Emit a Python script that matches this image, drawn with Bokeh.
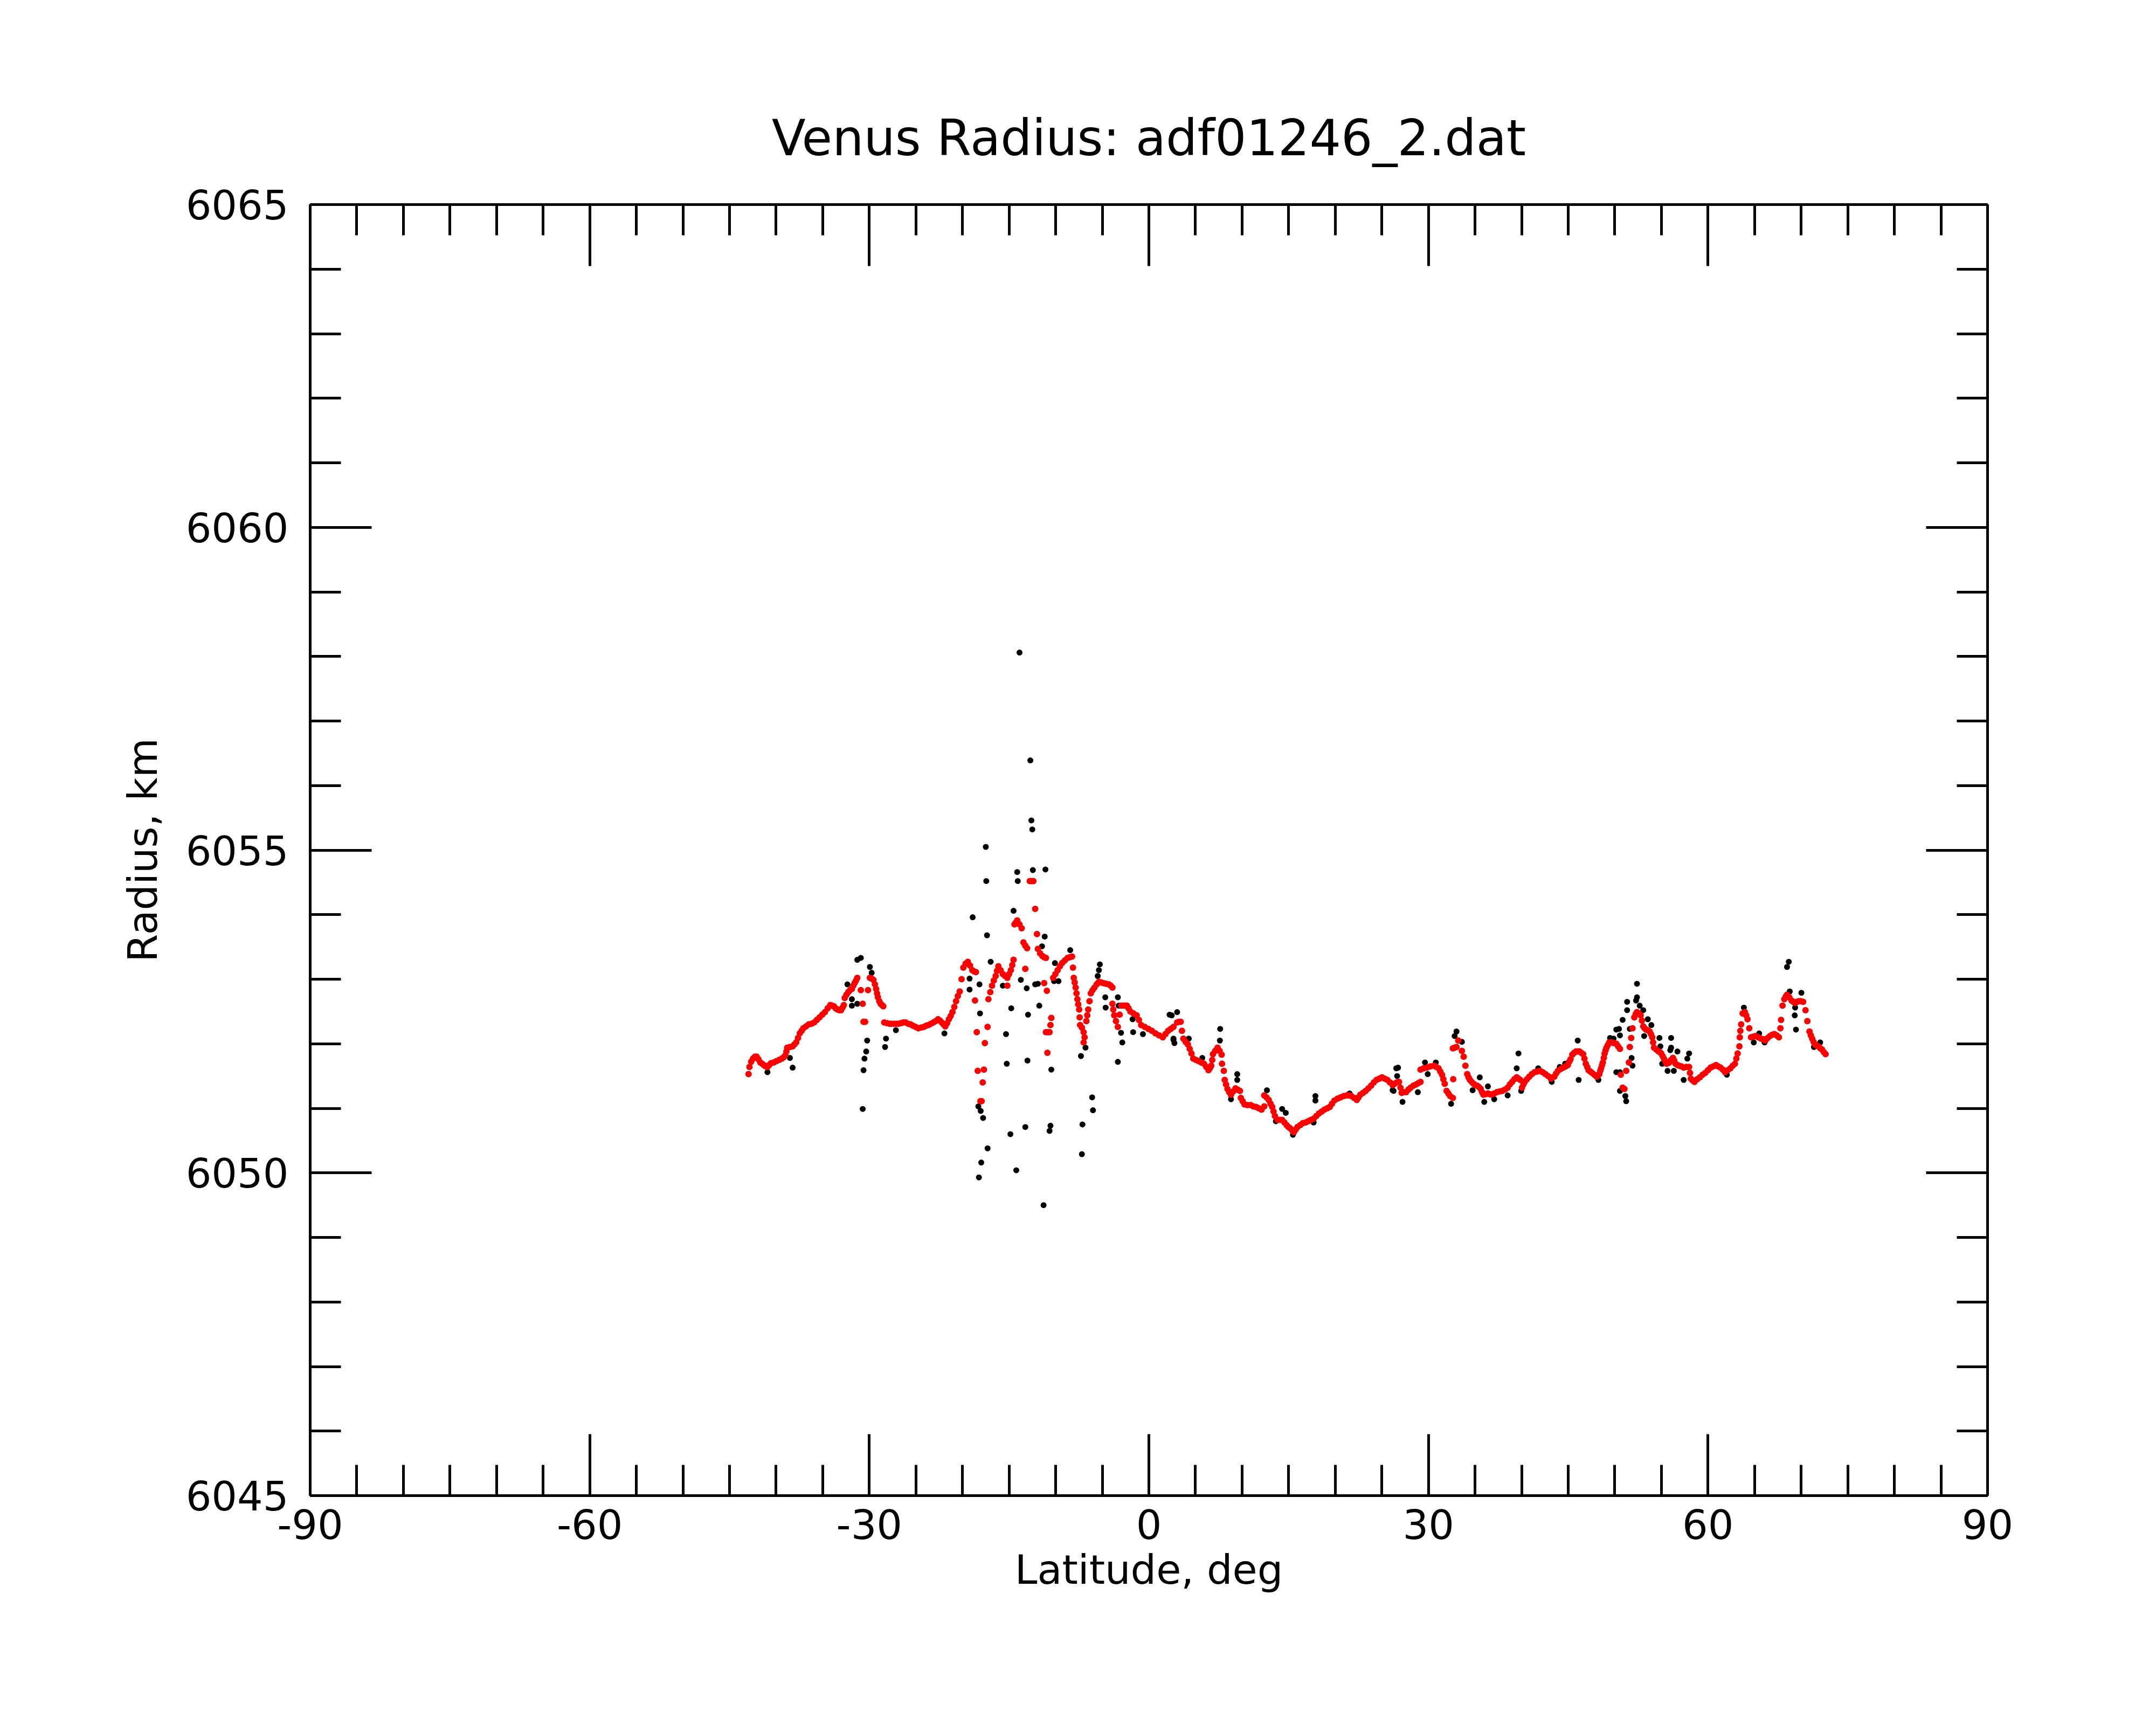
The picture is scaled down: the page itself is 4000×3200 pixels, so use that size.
from bokeh.plotting import figure
from bokeh.models import Range1d, SingleIntervalTicker, LinearAxis, CustomJSTickFormatter, ColumnDataSource
from bokeh.embed import file_html
from bokeh.resources import INLINE

title_text = "Venus Radius: adf01246_2.dat"
x_label = "Latitude, deg"
y_label = "Radius, km"
x_ticks_major = 30
y_ticks_major = 5

# smoothed radius (red), (latitude deg, radius km)
red_points = [
    (-42.96, 6051.53), (-42.86, 6051.64), (-42.68, 6051.72), (-42.48, 6051.77), (-42.28, 6051.80),
    (-42.09, 6051.80), (-41.90, 6051.76), (-41.70, 6051.71), (-41.50, 6051.69), (-41.32, 6051.67),
    (-41.12, 6051.65), (-40.93, 6051.64), (-40.74, 6051.67), (-40.55, 6051.70), (-40.26, 6051.71),
    (-39.97, 6051.73), (-39.68, 6051.75), (-39.39, 6051.77), (-39.20, 6051.79), (-39.01, 6051.82),
    (-38.90, 6051.88), (-38.81, 6051.94), (-38.52, 6051.95), (-38.23, 6051.96), (-38.04, 6051.99),
    (-37.85, 6052.02), (-37.65, 6052.09), (-37.46, 6052.16), (-37.27, 6052.20), (-37.08, 6052.24),
    (-36.79, 6052.27), (-36.50, 6052.30), (-36.21, 6052.31), (-35.92, 6052.33), (-35.63, 6052.37),
    (-35.34, 6052.41), (-35.05, 6052.45), (-34.76, 6052.49), (-34.47, 6052.55), (-34.19, 6052.60),
    (-34.00, 6052.59), (-33.80, 6052.58), (-33.61, 6052.55), (-33.41, 6052.53), (-33.22, 6052.52),
    (-33.03, 6052.52), (-32.88, 6052.56), (-32.74, 6052.60), (-32.64, 6052.71), (-32.45, 6052.76),
    (-32.26, 6052.80), (-32.06, 6052.83), (-31.87, 6052.85), (-31.72, 6052.90), (-31.58, 6052.94),
    (-31.43, 6052.98), (-31.29, 6053.02), (-30.91, 6052.83), (-30.71, 6052.62), (-30.62, 6052.34),
    (-30.45, 6052.34), (-30.14, 6052.83), (-29.94, 6053.02), (-29.75, 6053.01), (-29.56, 6052.99),
    (-29.40, 6052.92), (-29.27, 6052.85), (-29.17, 6052.78), (-29.08, 6052.72), (-28.93, 6052.66),
    (-28.79, 6052.62), (-28.64, 6052.60), (-28.50, 6052.58), (-28.40, 6052.33), (-28.10, 6052.32),
    (-27.85, 6052.31), (-27.63, 6052.31), (-27.35, 6052.31), (-27.10, 6052.31), (-26.86, 6052.31),
    (-26.60, 6052.32), (-26.35, 6052.33), (-26.09, 6052.33), (-25.83, 6052.31), (-25.57, 6052.30),
    (-25.32, 6052.28), (-25.03, 6052.26), (-24.74, 6052.24), (-24.45, 6052.25), (-24.16, 6052.26),
    (-23.90, 6052.28), (-23.65, 6052.29), (-23.39, 6052.31), (-23.13, 6052.33), (-22.88, 6052.35),
    (-22.62, 6052.38), (-22.42, 6052.36), (-22.23, 6052.33), (-22.04, 6052.30), (-21.85, 6052.27),
    (-21.65, 6052.32), (-21.46, 6052.38), (-21.27, 6052.43), (-21.08, 6052.49), (-20.88, 6052.57),
    (-20.69, 6052.66), (-20.50, 6052.74), (-20.30, 6052.81), (-20.10, 6053.00), (-19.91, 6053.18),
    (-19.67, 6053.24), (-19.43, 6053.27), (-19.19, 6053.21), (-18.95, 6053.14), (-18.75, 6053.12),
    (-18.56, 6053.11), (-18.66, 6052.67), (-18.47, 6052.18), (-18.37, 6051.58), (-17.70, 6051.60),
    (-17.83, 6051.40), (-18.08, 6051.11), (-17.95, 6051.11), (-17.60, 6052.01), (-17.31, 6052.26),
    (-17.22, 6052.69), (-17.02, 6052.80), (-16.83, 6052.90), (-16.64, 6052.98), (-16.44, 6053.05),
    (-16.30, 6053.13), (-16.15, 6053.20), (-15.91, 6053.14), (-15.67, 6053.08), (-15.43, 6053.05),
    (-15.19, 6053.02), (-15.19, 6052.90), (-15.00, 6053.08), (-14.81, 6053.14), (-14.66, 6053.22),
    (-14.52, 6053.30), (-14.42, 6053.85), (-14.27, 6053.88), (-14.13, 6053.91), (-13.89, 6053.85),
    (-13.65, 6053.79), (-13.46, 6053.57), (-13.26, 6053.52), (-13.07, 6053.48), (-13.26, 6053.16),
    (-12.78, 6054.52), (-12.59, 6054.52), (-12.40, 6054.52), (-12.20, 6054.09), (-12.01, 6053.70),
    (-11.91, 6053.47), (-11.67, 6053.40), (-11.43, 6053.36), (-11.24, 6053.34), (-11.05, 6053.33),
    (-11.24, 6052.94), (-10.95, 6052.82), (-10.47, 6052.40), (-10.56, 6052.29), (-11.05, 6052.18),
    (-10.85, 6052.18), (-10.66, 6052.18), (-10.89, 6051.86), (-10.27, 6053.02), (-10.03, 6053.08),
    (-9.79, 6053.14), (-9.55, 6053.20), (-9.31, 6053.25), (-9.02, 6053.29), (-8.73, 6053.33),
    (-8.49, 6053.34), (-8.25, 6053.35), (-8.15, 6053.18), (-8.06, 6053.02), (-7.96, 6052.95),
    (-7.86, 6052.87), (-7.77, 6052.78), (-7.67, 6052.69), (-7.58, 6052.61), (-7.48, 6052.53),
    (-7.43, 6052.41), (-7.38, 6052.29), (-7.19, 6052.25), (-7.00, 6052.18), (-7.00, 6052.02),
    (-6.90, 6052.10), (-6.71, 6052.35), (-6.61, 6052.44), (-6.51, 6052.53), (-6.37, 6052.66),
    (-6.23, 6052.78), (-6.04, 6052.83), (-5.84, 6052.87), (-5.60, 6052.92), (-5.36, 6052.96),
    (-5.12, 6052.95), (-4.88, 6052.94), (-4.59, 6052.93), (-4.30, 6052.92), (-4.10, 6052.90),
    (-3.91, 6052.87), (-3.91, 6052.62), (-3.82, 6052.53), (-3.72, 6052.44), (-3.53, 6052.35),
    (-3.33, 6052.26), (-3.14, 6052.45), (-2.95, 6052.59), (-2.66, 6052.59), (-2.37, 6052.59),
    (-2.18, 6052.55), (-1.98, 6052.50), (-1.65, 6052.47), (-1.31, 6052.44), (-1.07, 6052.37),
    (-0.83, 6052.29), (-0.44, 6052.26), (-0.05, 6052.23), (0.33, 6052.20), (0.71, 6052.16),
    (1.10, 6052.13), (1.49, 6052.10), (1.78, 6052.15), (2.06, 6052.20), (2.35, 6052.23),
    (2.64, 6052.26), (3.03, 6052.33), (3.22, 6052.34), (3.41, 6052.34), (3.55, 6052.20),
    (3.70, 6052.08), (3.94, 6052.03), (4.18, 6051.99), (4.38, 6051.92), (4.57, 6051.85),
    (4.76, 6051.77), (5.05, 6051.75), (5.34, 6051.73), (5.63, 6051.71), (5.92, 6051.69),
    (6.16, 6051.64), (6.40, 6051.59), (6.55, 6051.62), (6.69, 6051.66), (6.80, 6051.75),
    (6.88, 6051.84), (7.12, 6051.89), (7.37, 6051.94), (7.59, 6051.89), (7.81, 6051.83),
    (7.85, 6051.69), (8.04, 6051.58), (8.14, 6051.44), (8.28, 6051.37), (8.43, 6051.30),
    (8.62, 6051.25), (8.81, 6051.21), (9.05, 6051.26), (9.29, 6051.31), (9.53, 6051.29),
    (9.77, 6051.27), (9.87, 6051.16), (10.06, 6051.11), (10.26, 6051.06), (10.60, 6051.05),
    (10.93, 6051.05), (11.22, 6051.03), (11.51, 6051.02), (11.80, 6051.00), (12.09, 6050.98),
    (12.38, 6051.03), (12.38, 6051.20), (12.62, 6051.17), (12.86, 6051.13), (13.05, 6051.07),
    (13.24, 6051.02), (13.38, 6050.95), (13.53, 6050.88), (13.82, 6050.82), (14.06, 6050.82),
    (14.30, 6050.82), (14.55, 6050.78), (14.79, 6050.74), (14.98, 6050.71), (15.17, 6050.69),
    (15.37, 6050.66), (15.56, 6050.63), (15.75, 6050.67), (15.94, 6050.71), (16.23, 6050.74),
    (16.52, 6050.77), (16.81, 6050.78), (17.10, 6050.80), (17.39, 6050.82), (17.68, 6050.84),
    (17.97, 6050.88), (18.26, 6050.92), (18.55, 6050.95), (18.84, 6050.98), (19.13, 6051.00),
    (19.41, 6051.02), (19.65, 6051.07), (19.90, 6051.12), (20.24, 6051.15), (20.57, 6051.17),
    (20.91, 6051.19), (21.25, 6051.20), (21.49, 6051.20), (21.73, 6051.19), (22.02, 6051.16),
    (22.31, 6051.13), (22.50, 6051.17), (22.69, 6051.21), (22.98, 6051.24), (23.27, 6051.27),
    (23.56, 6051.31), (23.85, 6051.35), (24.14, 6051.40), (24.43, 6051.44), (24.72, 6051.46),
    (25.01, 6051.48), (25.30, 6051.46), (25.59, 6051.44), (25.88, 6051.40), (26.16, 6051.36),
    (26.36, 6051.38), (26.60, 6051.40), (26.84, 6051.41), (27.00, 6051.32), (27.13, 6051.24),
    (27.37, 6051.25), (27.61, 6051.25), (27.85, 6051.29), (28.09, 6051.32), (28.38, 6051.35),
    (28.67, 6051.37), (28.91, 6051.39), (29.15, 6051.41), (29.15, 6051.60), (29.49, 6051.62),
    (29.83, 6051.63), (30.21, 6051.65), (30.60, 6051.66), (30.84, 6051.64), (31.08, 6051.62),
    (31.27, 6051.57), (31.46, 6051.52), (31.60, 6051.45), (31.75, 6051.38), (31.95, 6051.27),
    (32.14, 6051.23), (32.33, 6051.19), (32.62, 6051.16), (32.66, 6051.45), (32.62, 6051.93),
    (32.81, 6051.94), (33.01, 6051.95), (33.20, 6052.05), (33.59, 6051.89), (33.78, 6051.80),
    (33.97, 6051.66), (34.16, 6051.53), (34.30, 6051.48), (34.45, 6051.44), (34.64, 6051.41),
    (34.84, 6051.38), (35.03, 6051.36), (35.22, 6051.35), (35.41, 6051.33), (35.61, 6051.30),
    (35.75, 6051.25), (35.90, 6051.21), (36.14, 6051.22), (36.38, 6051.23), (36.58, 6051.22),
    (36.77, 6051.21), (37.06, 6051.23), (37.35, 6051.25), (37.64, 6051.26), (37.92, 6051.27),
    (38.21, 6051.29), (38.50, 6051.32), (38.74, 6051.37), (38.98, 6051.41), (39.22, 6051.45),
    (39.47, 6051.48), (39.66, 6051.46), (39.85, 6051.44), (40.04, 6051.32), (40.19, 6051.37),
    (40.33, 6051.41), (40.57, 6051.45), (40.82, 6051.49), (41.10, 6051.53), (41.39, 6051.56),
    (41.68, 6051.57), (41.97, 6051.58), (42.26, 6051.56), (42.55, 6051.53), (42.84, 6051.50),
    (43.13, 6051.46), (43.32, 6051.48), (43.51, 6051.49), (43.70, 6051.54), (43.90, 6051.58),
    (44.19, 6051.61), (44.48, 6051.63), (44.72, 6051.65), (44.96, 6051.67), (45.10, 6051.72),
    (45.25, 6051.76), (45.44, 6051.83), (45.64, 6051.86), (45.83, 6051.88), (46.02, 6051.88),
    (46.21, 6051.88), (46.40, 6051.86), (46.60, 6051.84), (46.74, 6051.77), (46.89, 6051.69),
    (47.04, 6051.64), (47.18, 6051.59), (47.37, 6051.57), (47.56, 6051.55), (47.80, 6051.52),
    (48.05, 6051.49), (48.20, 6051.51), (48.34, 6051.53), (48.44, 6051.58), (48.53, 6051.62),
    (48.63, 6051.67), (48.72, 6051.71), (48.82, 6051.78), (48.91, 6051.85), (49.01, 6051.90),
    (49.11, 6051.94), (49.25, 6051.98), (49.40, 6052.02), (49.68, 6052.02), (49.88, 6052.01),
    (50.16, 6052.00), (50.35, 6051.96), (50.55, 6051.92), (50.64, 6051.52), (50.84, 6051.32),
    (51.03, 6051.30), (51.22, 6051.58), (51.51, 6051.71), (51.61, 6051.95), (51.76, 6052.09),
    (51.90, 6052.24), (52.09, 6052.41), (52.24, 6052.46), (52.38, 6052.49), (52.58, 6052.47),
    (52.77, 6052.44), (52.91, 6052.36), (53.05, 6052.27), (53.20, 6052.24), (53.35, 6052.22),
    (53.54, 6052.21), (53.73, 6052.19), (53.88, 6052.15), (54.02, 6052.10), (54.11, 6052.02),
    (54.21, 6051.94), (54.45, 6051.91), (54.69, 6051.88), (54.84, 6051.87), (54.98, 6051.85),
    (55.13, 6051.81), (55.27, 6051.77), (55.42, 6051.73), (55.56, 6051.69), (55.70, 6051.70),
    (55.85, 6051.71), (56.04, 6051.75), (56.24, 6051.78), (56.38, 6051.74), (56.52, 6051.69),
    (56.72, 6051.67), (56.91, 6051.66), (57.15, 6051.65), (57.39, 6051.63), (57.68, 6051.64),
    (57.97, 6051.64), (58.07, 6051.55), (58.16, 6051.46), (58.36, 6051.43), (58.55, 6051.41),
    (58.84, 6051.45), (59.13, 6051.48), (59.42, 6051.52), (59.71, 6051.55), (60.00, 6051.59),
    (60.28, 6051.63), (60.57, 6051.65), (60.86, 6051.67), (61.10, 6051.65), (61.34, 6051.63),
    (61.59, 6051.60), (61.83, 6051.56), (62.12, 6051.59), (62.41, 6051.62), (62.65, 6051.66),
    (62.89, 6051.69), (63.04, 6051.77), (63.18, 6051.85), (63.37, 6051.96), (63.41, 6052.10),
    (63.47, 6052.20), (63.56, 6052.30), (63.72, 6052.47), (63.95, 6052.49), (64.10, 6052.44),
    (64.24, 6052.38), (64.43, 6052.24), (64.62, 6052.10), (64.86, 6052.11), (65.10, 6052.12),
    (65.39, 6052.10), (65.68, 6052.08), (65.92, 6052.07), (66.16, 6052.05), (66.40, 6052.09),
    (66.65, 6052.12), (66.89, 6052.14), (67.13, 6052.15), (67.37, 6052.13), (67.61, 6052.10),
    (67.77, 6052.24), (67.84, 6052.37), (68.00, 6052.59), (68.19, 6052.69), (68.34, 6052.73),
    (68.48, 6052.76), (68.72, 6052.72), (68.96, 6052.67), (69.16, 6052.65), (69.35, 6052.63),
    (69.54, 6052.65), (69.73, 6052.66), (69.97, 6052.66), (70.21, 6052.65), (70.46, 6052.52),
    (70.66, 6052.35), (70.89, 6052.19), (71.04, 6052.13), (71.18, 6052.08), (71.33, 6052.03),
    (71.47, 6051.99), (71.66, 6051.97), (71.85, 6051.96), (72.05, 6051.93), (72.24, 6051.91),
    (72.43, 6051.87), (72.62, 6051.84),
]

# raw radius samples that stand apart from the smoothed curve (black)
black_points = [
    (-31.29, 6053.30), (-30.91, 6053.33), (-29.94, 6053.19), (-29.75, 6053.10), (-32.35, 6052.92),
    (-31.87, 6052.69), (-31.29, 6052.62), (-31.87, 6052.59), (-30.23, 6052.05), (-30.33, 6051.88),
    (-30.52, 6051.77), (-30.62, 6051.59), (-30.71, 6050.99), (-28.21, 6052.08), (-28.31, 6051.95),
    (-38.23, 6051.63), (-38.52, 6051.78), (-40.93, 6051.56), (-27.15, 6052.21), (-21.94, 6052.16),
    (-18.30, 6051.03), (-18.05, 6050.96),
    (-13.88, 6058.06), (-12.72, 6056.39), (-12.61, 6055.46), (-12.51, 6055.32), (-17.50, 6055.05),
    (-17.45, 6054.52), (-14.13, 6054.66), (-14.07, 6054.52), (-12.45, 6054.69), (-11.10, 6054.70),
    (-18.91, 6053.96), (-17.37, 6053.68), (-14.52, 6054.06), (-16.98, 6053.27), (-11.47, 6053.51),
    (-11.18, 6053.66), (-19.24, 6053.01), (-19.24, 6052.84), (-18.18, 6052.92), (-18.12, 6052.47),
    (-13.74, 6052.99), (-13.11, 6052.86), (-12.20, 6052.92), (-11.76, 6052.59), (-14.77, 6052.55),
    (-12.97, 6052.45), (-15.33, 6052.15), (-15.25, 6051.69), (-13.03, 6051.74), (-10.47, 6051.60),
    (-17.79, 6050.85), (-17.31, 6050.38), (-17.99, 6050.16), (-18.24, 6049.93), (-14.86, 6050.60),
    (-14.23, 6050.04), (-13.26, 6050.71), (-10.56, 6050.73), (-10.66, 6050.65), (-11.30, 6049.50),
    (-7.13, 6050.75), (-7.19, 6050.29), (-6.09, 6051.17), (-6.00, 6050.97), (-7.29, 6051.81),
    (-6.80, 6051.94), (-5.26, 6053.23), (-5.36, 6053.14), (-5.49, 6053.05), (-8.44, 6053.45),
    (-4.68, 6052.72), (-4.64, 6052.56), (-3.33, 6052.72), (-3.24, 6052.59), (-3.33, 6051.72),
    (-2.99, 6052.17), (-2.85, 6052.02), (-1.75, 6052.38), (-1.69, 6052.18), (-0.64, 6052.15),
    (2.22, 6052.45), (2.64, 6052.06), (-10.08, 6053.25), (-10.18, 6052.97), (-9.70, 6052.97),
    (-11.91, 6052.93), (-15.67, 6052.90),
    (3.03, 6052.49), (2.45, 6052.44), (2.64, 6052.08), (2.74, 6052.01), (4.28, 6052.08),
    (5.73, 6051.78), (7.65, 6052.23), (7.62, 6052.05), (9.48, 6051.53), (9.48, 6051.44),
    (8.81, 6051.14), (12.67, 6051.28), (14.30, 6050.99), (14.69, 6050.93), (13.63, 6050.80),
    (15.46, 6050.59), (17.87, 6051.19), (17.87, 6051.12), (17.68, 6050.78), (21.54, 6051.23),
    (26.16, 6051.28), (26.55, 6051.62),
    (26.74, 6051.63), (26.64, 6051.50), (26.26, 6051.27), (27.22, 6051.10), (28.86, 6051.25),
    (29.63, 6051.71), (29.92, 6051.53), (30.79, 6051.71), (32.43, 6051.07), (33.01, 6052.19),
    (32.81, 6052.12), (33.59, 6052.03), (34.74, 6051.28), (35.51, 6051.48), (35.99, 6051.10),
    (36.38, 6051.34), (37.06, 6051.14), (38.50, 6051.20), (39.66, 6051.85), (39.47, 6051.62),
    (39.95, 6051.27), (41.78, 6051.62), (43.23, 6051.41), (44.09, 6051.64), (44.67, 6051.69),
    (46.02, 6052.05), (46.12, 6051.44), (48.24, 6051.44), (49.49, 6052.09), (50.16, 6052.22),
    (50.16, 6051.56),
    (49.87, 6052.08), (50.45, 6052.23), (50.55, 6052.13), (50.84, 6052.37), (51.32, 6052.52),
    (51.32, 6052.65), (50.55, 6051.56), (50.55, 6051.27), (51.22, 6051.11), (51.13, 6051.19),
    (51.80, 6051.78), (51.90, 6051.66), (51.61, 6052.23), (52.38, 6052.93), (52.38, 6052.72),
    (52.28, 6052.67), (52.67, 6052.59), (53.05, 6052.52), (53.54, 6052.38), (53.92, 6052.29),
    (53.15, 6052.12), (54.79, 6052.09), (56.04, 6052.09), (55.95, 6051.90), (56.72, 6051.88),
    (56.04, 6051.94), (54.89, 6051.96), (55.08, 6051.69), (55.66, 6051.58), (56.33, 6051.58),
    (57.39, 6051.44), (57.97, 6051.85), (57.78, 6051.77), (62.02, 6051.52), (63.85, 6052.56),
    (64.91, 6052.02), (65.49, 6052.16), (66.07, 6052.02), (68.77, 6052.81), (68.48, 6053.19),
    (68.67, 6053.27), (69.35, 6052.56), (69.31, 6052.44), (69.44, 6052.22), (70.02, 6052.79),
    (72.04, 6052.02), (71.37, 6051.95),
]

black_src = ColumnDataSource(dict(lat=[p[0] for p in black_points], rad=[p[1] for p in black_points]))
red_src = ColumnDataSource(dict(lat=[p[0] for p in red_points], rad=[p[1] for p in red_points]))

FONT = "DejaVu Sans"

p = figure(frame_width=3112, frame_height=2395,
           x_range=Range1d(-90, 90), y_range=Range1d(6045, 6065),
           output_backend="svg", toolbar_location=None,
           min_border_left=575, min_border_right=297,
           min_border_top=379, min_border_bottom=410,
           background_fill_color="white", border_fill_color="white")
p.outline_line_color = None
p.grid.visible = False

p.scatter("lat", "rad", source=black_src, size=11, color="black", line_color=None)
p.scatter("lat", "rad", source=red_src, size=12, color="#ff0000", line_color=None)

p.add_layout(LinearAxis(), "right")
p.add_layout(LinearAxis(), "above")

plain = CustomJSTickFormatter(code="return tick.toString();")

def style_axis(ax, ticker, labels):
    ax.ticker = ticker
    ax.axis_line_width = 5
    ax.axis_line_color = "black"
    ax.major_tick_in = 114
    ax.major_tick_out = 0
    ax.minor_tick_in = 57
    ax.minor_tick_out = 0
    ax.major_tick_line_width = 5
    ax.minor_tick_line_width = 5
    ax.major_tick_line_color = "black"
    ax.minor_tick_line_color = "black"
    ax.major_label_text_font = FONT
    ax.major_label_text_font_size = "75px"
    ax.major_label_text_color = "black"
    if labels:
        ax.formatter = plain
    else:
        ax.formatter = CustomJSTickFormatter(code="return '';")
        ax.major_label_standoff = 0

for ax in p.xaxis:
    style_axis(ax, SingleIntervalTicker(interval=x_ticks_major, num_minor_ticks=6), ax is p.below[0])
for ax in p.yaxis:
    style_axis(ax, SingleIntervalTicker(interval=y_ticks_major, num_minor_ticks=5), ax is p.left[0])

bx = p.below[0]
bx.major_label_standoff = 25
bx.axis_label = x_label
bx.axis_label_text_font = FONT
bx.axis_label_text_font_size = "75px"
bx.axis_label_text_font_style = "normal"
bx.axis_label_text_color = "black"
bx.axis_label_standoff = 10

ly = p.left[0]
ly.major_label_standoff = 40
ly.axis_label = y_label
ly.axis_label_text_font = FONT
ly.axis_label_text_font_size = "75px"
ly.axis_label_text_font_style = "normal"
ly.axis_label_text_color = "black"
ly.axis_label_standoff = 33

p.title.text = title_text
p.title.align = "center"
p.title.text_font = FONT
p.title.text_font_size = "92px"
p.title.text_font_style = "normal"
p.title.text_color = "black"
p.title.standoff = 140

open("out.html", "w").write(file_html(p, INLINE))
